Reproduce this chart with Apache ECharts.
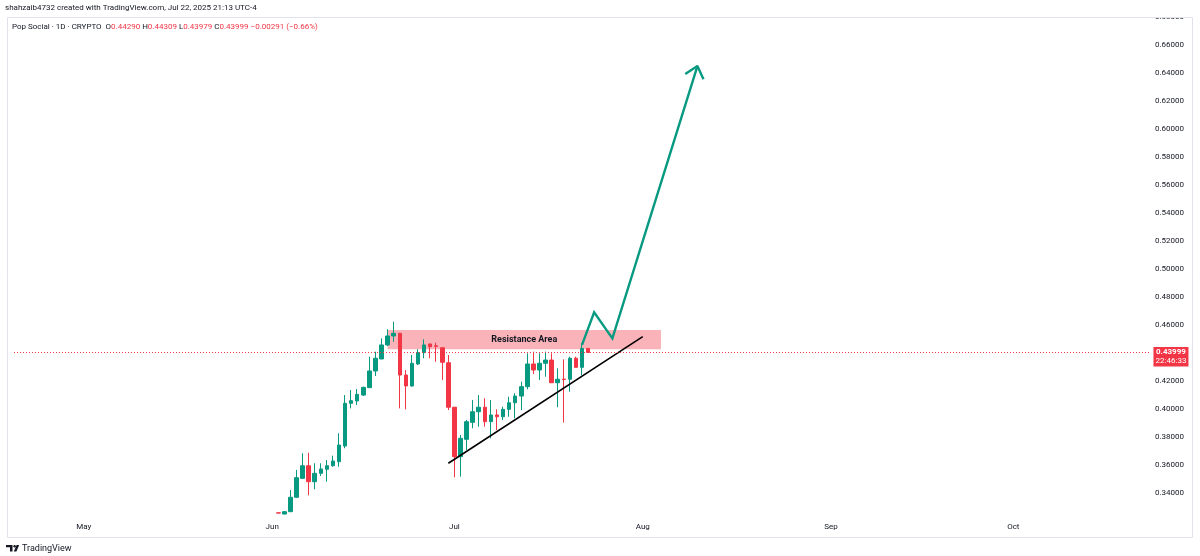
<!DOCTYPE html>
<html><head><meta charset="utf-8">
<script src="https://cdn.jsdelivr.net/npm/echarts@6/dist/echarts.min.js"></script>
<style>html,body{margin:0;padding:0;background:#fff}#c{width:1200px;height:556px}</style>
</head><body><div id="c"></div>
<script>
// ---- axis ----
const axisStart = '2025-04-20';
const axisDays = 187;
const monthLabels = {'05':'May','06':'Jun','07':'Jul','08':'Aug','09':'Sep','10':'Oct'};
const yMin = 0.32, yMax = 0.68, yInterval = 0.02;

// ---- candles (1D, UTC) ----
const candleDates = ['2025-06-02','2025-06-03','2025-06-04','2025-06-05','2025-06-06','2025-06-07','2025-06-08','2025-06-09','2025-06-10','2025-06-11','2025-06-12','2025-06-13','2025-06-14','2025-06-15','2025-06-16','2025-06-17','2025-06-18','2025-06-19','2025-06-20','2025-06-21','2025-06-22','2025-06-23','2025-06-24','2025-06-25','2025-06-26','2025-06-27','2025-06-28','2025-06-29','2025-06-30','2025-07-01','2025-07-02','2025-07-03','2025-07-04','2025-07-05','2025-07-06','2025-07-07','2025-07-08','2025-07-09','2025-07-10','2025-07-11','2025-07-12','2025-07-13','2025-07-14','2025-07-15','2025-07-16','2025-07-17','2025-07-18','2025-07-19','2025-07-20','2025-07-21','2025-07-22','2025-07-23'];
const opens  = [0.3255,0.3246,0.3263,0.3366,0.3501,0.3591,0.3477,0.3537,0.3566,0.3591,0.3620,0.3732,0.4037,0.4054,0.4096,0.4149,0.4268,0.4354,0.4454,0.4518,0.4537,0.4239,0.4161,0.4318,0.4399,0.4461,0.4448,0.4434,0.4327,0.4009,0.3656,0.3780,0.3901,0.3977,0.4009,0.3906,0.3954,0.3941,0.3994,0.4041,0.4089,0.4156,0.4318,0.4275,0.4323,0.4346,0.4184,0.4210,0.4209,0.4359,0.4294,0.44290];
const highs  = [0.3256,0.3268,0.3418,0.3561,0.3680,0.3684,0.3609,0.3609,0.3632,0.3663,0.3823,0.4096,0.4132,0.4139,0.4156,0.4370,0.4406,0.4501,0.4566,0.4620,0.4540,0.4275,0.4382,0.4423,0.4494,0.4463,0.4470,0.4436,0.4382,0.4012,0.3811,0.3918,0.4061,0.4096,0.4073,0.4061,0.3994,0.4013,0.4084,0.4109,0.4191,0.4394,0.4406,0.4394,0.4406,0.4394,0.4287,0.4351,0.4370,0.4370,0.4466,0.44309];
const lows   = [0.3252,0.3244,0.3260,0.3362,0.3498,0.3380,0.3423,0.3518,0.3477,0.3584,0.3584,0.3716,0.4001,0.4025,0.4089,0.4146,0.4232,0.4352,0.4446,0.4477,0.4001,0.3994,0.4156,0.4311,0.4359,0.4359,0.4334,0.4204,0.3989,0.3509,0.3513,0.3704,0.3859,0.3870,0.3870,0.3787,0.3846,0.3918,0.3941,0.3930,0.3989,0.4137,0.4246,0.4204,0.4227,0.4182,0.4009,0.3899,0.4120,0.4292,0.4239,0.43979];
const closes = [0.3253,0.3263,0.3366,0.3506,0.3591,0.3477,0.3537,0.3568,0.3591,0.3625,0.3739,0.4037,0.4056,0.4101,0.4151,0.4268,0.4359,0.4454,0.4518,0.4537,0.4239,0.4161,0.4323,0.4399,0.4454,0.4441,0.4444,0.4330,0.4009,0.3656,0.3787,0.3906,0.3977,0.4009,0.3906,0.3954,0.3941,0.3994,0.4041,0.4089,0.4156,0.4318,0.4275,0.4323,0.4346,0.4184,0.4209,0.4207,0.4359,0.4294,0.4429,0.43999];

// ---- price / drawings ----
const lastPrice = 0.43999;
const countdown = '22:46:33';
const resistance = {from:'2025-06-20', to:'2025-08-04', low:0.4423, high:0.4561, label:'Resistance Area'};
const trendLine  = [['2025-06-30',0.3609],['2025-08-01',0.4513]];
const projection = [['2025-07-22',0.4454],['2025-07-24',0.4687],['2025-07-27',0.4501],['2025-08-10',0.6446]];
const arrowHead  = [['2025-08-08',0.6389],['2025-08-10',0.6446],['2025-08-11',0.6351]];

const headerLine1 = 'shahzaib4732 created with TradingView.com, Jul 22, 2025 21:13 UTC-4';
const symbolText = 'Pop Social · 1D · CRYPTO';
const ohlcText = {O:'0.44290', H:'0.44309', L:'0.43979', C:'0.43999', chg:'−0.00291 (−0.66%)'};

const UP = '#089981', DOWN = '#f23645', TXT = '#131722';
const FONT = 'Roboto, "Noto Sans", sans-serif';

// categories
const categories = [];
const d0 = new Date(axisStart + 'T00:00:00Z');
for (let i = 0; i < axisDays; i++) {
  categories.push(new Date(d0.getTime() + i * 86400000).toISOString().slice(0, 10));
}
const candleMap = {};
candleDates.forEach((d, i) => { candleMap[d] = [opens[i], closes[i], lows[i], highs[i]]; });
const candleData = categories.map(c => candleMap[c] || '-');

const chart = echarts.init(document.getElementById('c'), null, {renderer: 'canvas'});
chart.setOption({
  backgroundColor: '#ffffff',
  animation: false,
  grid: {left: 14, right: 50, top: 16.5, bottom: 35.5},
  xAxis: {
    type: 'category', data: categories, boundaryGap: true,
    axisLine: {show: false}, axisTick: {show: false}, splitLine: {show: false},
    axisLabel: {
      interval: (i, v) => v.slice(8) === '01',
      formatter: v => monthLabels[v.slice(5, 7)] || '',
      color: TXT, fontSize: 8, margin: 2.5, fontFamily: FONT
    }
  },
  yAxis: {
    type: 'value', position: 'right', min: yMin, max: yMax, interval: yInterval,
    axisLine: {show: false}, axisTick: {show: false}, splitLine: {show: false},
    axisLabel: {
      align: 'left', margin: 5, color: TXT, fontSize: 8, fontFamily: FONT,
      formatter: v => (Math.abs(v - 0.44) < 1e-6 || Math.abs(v - 0.32) < 1e-6) ? '' : v.toFixed(5)
    }
  },
  series: [
    {
      type: 'line', data: [], z: 1, silent: true,
      markArea: {
        silent: true,
        itemStyle: {color: 'rgba(242,54,69,0.38)'},
        label: {show: true, position: 'inside', color: TXT, fontWeight: 'bold', fontSize: 9, fontFamily: FONT},
        data: [[{name: resistance.label, xAxis: resistance.from, yAxis: resistance.high}, {xAxis: resistance.to, yAxis: resistance.low}]]
      }
    },
    {
      type: 'candlestick', data: candleData, z: 2, barWidth: 4,
      itemStyle: {color: UP, color0: DOWN, borderColor: UP, borderColor0: DOWN, borderWidth: 1},
      markLine: {
        silent: true, symbol: 'none', animation: false,
        lineStyle: {color: DOWN, type: [1, 2], width: 1},
        label: {show: false},
        data: [{yAxis: lastPrice}]
      }
    },
    {
      type: 'line', data: trendLine, z: 3, symbol: 'none', silent: true,
      lineStyle: {color: '#000', width: 1.6}
    },
    {
      type: 'line', data: projection, z: 4, symbol: 'none', silent: true,
      lineStyle: {color: UP, width: 2.4, join: 'miter'}
    },
    {
      type: 'line', data: arrowHead, z: 4, symbol: 'none', silent: true,
      lineStyle: {color: UP, width: 2.4}
    }
  ],
  graphic: [
    {type: 'rect', z: 100, shape: {x: 1150, y: 0, width: 50, height: 17}, style: {fill: '#fff'}},
    {type: 'rect', z: 101, shape: {x: 7.5, y: 17.5, width: 1185, height: 520}, style: {fill: 'none', stroke: '#e0e3eb', lineWidth: 1}},
    {type: 'text', z: 102, left: 5, top: 4, style: {text: headerLine1, fill: TXT, font: '8px ' + FONT}},
    {type: 'text', z: 102, left: 12, top: 22.5, style: {
      text: '{s|' + symbolText + '  }{k|O}{v|' + ohlcText.O + ' }{k|H}{v|' + ohlcText.H + ' }{k|L}{v|' + ohlcText.L + ' }{k|C}{v|' + ohlcText.C + ' }{v|' + ohlcText.chg + '}',
      rich: {
        s: {fill: TXT, fontSize: 8, fontFamily: FONT},
        k: {fill: TXT, fontSize: 8, fontFamily: FONT},
        v: {fill: DOWN, fontSize: 8, fontFamily: FONT}
      }
    }},
    {type: 'group', z: 102, left: 6, top: 545, children: [
      {type: 'polygon', shape: {points: [[0,0],[6.5,0],[6.5,6.5],[4,6.5],[4,2.3],[0,2.3]]}, style: {fill: TXT}},
      {type: 'circle', shape: {cx: 8.6, cy: 1.2, r: 1.2}, style: {fill: TXT}},
      {type: 'polygon', shape: {points: [[10.6,0],[13.2,0],[10.4,6.5],[7.8,6.5]]}, style: {fill: TXT}}
    ]},
    {type: 'text', z: 102, left: 22, top: 544, style: {text: 'TradingView', fill: TXT, font: '9px ' + FONT}}
  ]
});

// price label on the right scale, placed through the y scale
const py = chart.convertToPixel({yAxisIndex: 0}, lastPrice);
const gx = chart.convertToPixel({xAxisIndex: 0}, categories[categories.length - 1]) + 6.5;
chart.setOption({
  graphic: [
    {type: 'rect', id: 'pbox', z: 103, shape: {x: gx, y: py - 5.5, width: 35, height: 19.5}, style: {fill: DOWN}},
    {type: 'text', id: 'pval', z: 104, x: gx + 17.5, y: py - 5, style: {text: lastPrice.toFixed(5), fill: '#fff', font: 'bold 8px ' + FONT, align: 'center'}},
    {type: 'text', id: 'pcd', z: 104, x: gx + 17.5, y: py + 4, style: {text: countdown, fill: '#fff', font: '8px ' + FONT, align: 'center'}}
  ]
});
</script>
</body></html>
